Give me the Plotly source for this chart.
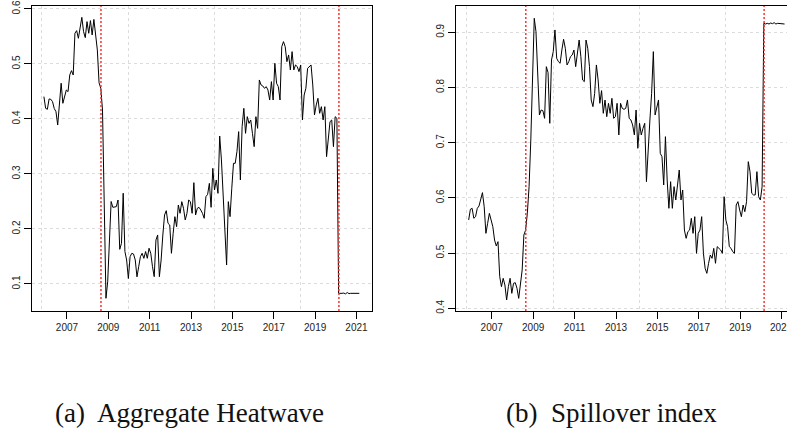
import numpy as np
import plotly.graph_objects as go

# ---------------- data ----------------
heatwave = [
    0.4406, 0.4194, 0.4176, 0.4364, 0.4358, 0.4315, 0.419, 0.4133, 0.389, 0.4285,
    0.465, 0.4285, 0.4436, 0.4527, 0.4497, 0.48, 0.4879, 0.48, 0.5558, 0.5606,
    0.5467, 0.563, 0.5848, 0.5588, 0.5479, 0.577, 0.5558, 0.5788, 0.5527, 0.581,
    0.5497, 0.5255, 0.466, 0.4558, 0.4164, 0.271, 0.074, 0.104, 0.18, 0.25,
    0.2394, 0.2394, 0.2406, 0.2527, 0.163, 0.174, 0.265, 0.159, 0.1436, 0.11,
    0.1497, 0.1558, 0.1545, 0.1436, 0.113, 0.1315, 0.1497, 0.1558, 0.1467, 0.159,
    0.1467, 0.165, 0.1558,
    0.1315, 0.1133, 0.18, 0.1891, 0.1133, 0.1436, 0.1891, 0.2255, 0.2333, 0.2103,
    0.2073, 0.1558, 0.1921, 0.2224, 0.2042, 0.2436, 0.2285, 0.2497, 0.2376, 0.2164,
    0.2285, 0.2527, 0.2497, 0.2285, 0.2842, 0.2255, 0.2376, 0.2394, 0.2345, 0.2285,
    0.2194, 0.2588, 0.263, 0.283, 0.2394, 0.3103, 0.2709, 0.2891, 0.2648, 0.369,
    0.3255, 0.2527, 0.1921, 0.1345, 0.2497, 0.2224, 0.2739, 0.3194, 0.3194, 0.3406,
    0.377, 0.2891, 0.386, 0.4194, 0.3739, 0.4042, 0.392, 0.3982, 0.3739, 0.3497,
    0.4042, 0.383,
    0.4709, 0.4618, 0.46, 0.4558, 0.4588, 0.4527, 0.4345, 0.4679, 0.4345, 0.5012,
    0.4648, 0.4588, 0.4345, 0.5315, 0.5406, 0.5315, 0.5042, 0.5164, 0.4891, 0.5224,
    0.4891, 0.4982, 0.4952, 0.4861, 0.4982, 0.3982, 0.4436, 0.4558, 0.4921, 0.4952,
    0.4982, 0.4618, 0.4073, 0.4255, 0.4376, 0.4103, 0.4224, 0.3982, 0.4224, 0.3315,
    0.3618, 0.3951, 0.3982, 0.3497, 0.4042, 0.4012,
    0.083, 0.0825, 0.083, 0.0835, 0.082, 0.0845, 0.0825, 0.083, 0.083, 0.0825,
    0.083, 0.083, 0.083,
]

spillover = [
    0.5600, 0.5793, 0.5811, 0.5630, 0.5660, 0.5811, 0.5853, 0.5962, 0.6095, 0.5841,
    0.5358, 0.5539, 0.5720, 0.5600, 0.5479, 0.5237, 0.5129, 0.5207, 0.4573, 0.4392,
    0.4543, 0.4422, 0.4150, 0.4392, 0.4543, 0.4271, 0.4452, 0.4464, 0.4362, 0.4180,
    0.4392, 0.4694, 0.5328, 0.5418, 0.5720, 0.6203, 0.7049, 0.8075, 0.9253, 0.9011,
    0.8377, 0.7502, 0.7592, 0.7580, 0.7441, 0.8377, 0.8269, 0.7351, 0.8498, 0.8649,
    0.9042, 0.8528, 0.8468, 0.8438, 0.8679, 0.8873, 0.8709, 0.8408, 0.8468, 0.8559,
    0.8589, 0.8679, 0.8377, 0.8589, 0.8860, 0.8559, 0.8136, 0.8106, 0.8860, 0.8709,
    0.8377, 0.7773, 0.7653, 0.7894, 0.8408, 0.8136, 0.7713, 0.7943, 0.7532, 0.7773,
    0.7471, 0.7713, 0.7532, 0.7804, 0.7441, 0.7471, 0.7713, 0.7140, 0.7713, 0.7622,
    0.7604,
    0.7622, 0.7774, 0.7441, 0.7411, 0.7321, 0.7140, 0.7592, 0.6898, 0.7351, 0.7140,
    0.7260, 0.7351, 0.6294, 0.6928, 0.7411, 0.7894, 0.8649, 0.7502, 0.7653, 0.7774,
    0.6807, 0.6747, 0.6234, 0.7109, 0.6324, 0.5811, 0.6294, 0.5811, 0.6204, 0.5962,
    0.6234, 0.6505, 0.5962, 0.6143, 0.5418, 0.5267, 0.5388, 0.5418, 0.5630, 0.5358,
    0.5660, 0.4996, 0.5358, 0.5418, 0.5660, 0.4996, 0.4724, 0.4633, 0.4815, 0.4966,
    0.4905, 0.5086, 0.4815, 0.5117, 0.5086, 0.5056, 0.4996, 0.6022, 0.5600, 0.5479,
    0.5117, 0.5086, 0.5026, 0.4996, 0.5871, 0.5932, 0.5781, 0.5660, 0.5871, 0.5750,
    0.5932, 0.6656, 0.6475, 0.6083, 0.6053, 0.6053, 0.6475, 0.6022, 0.5962, 0.6203,
    0.9162, 0.9150, 0.9162, 0.9150, 0.9168, 0.9156, 0.9174, 0.9150, 0.9162, 0.9156,
    0.9162, 0.9156, 0.9150,
]

start_year = 2005.886                      # first monthly observation (decimal year)
n_obs = len(heatwave)
x_years = [start_year + i / 12 for i in range(n_obs)]

year_ticks = [2007, 2009, 2011, 2013, 2015, 2017, 2019, 2021]
year_labels = [str(y) for y in year_ticks]
grid_years = [2005.792, 2009.958, 2014.125, 2018.292]   # R grid() positions
break_years = [2008.645, 2020.15]                       # structural breaks

heat_ticks = [0.1, 0.2, 0.3, 0.4, 0.5, 0.6]
heat_labels = ["0.1", "0.2", "0.3", "0.4", "0.5", "0.6"]
spill_ticks = [0.4, 0.5, 0.6, 0.7, 0.8, 0.9]
spill_labels = ["0.4", "0.5", "0.6", "0.7", "0.8", "0.9"]

captions = ["(a)  Aggregate Heatwave", "(b)  Spillover index"]

# ---------------- figure ----------------
W, H = 787, 428
fig = go.Figure()
fig.add_trace(go.Scatter(x=x_years, y=heatwave, mode="lines",
                         line=dict(color="black", width=1), xaxis="x", yaxis="y",
                         hoverinfo="skip"))
fig.add_trace(go.Scatter(x=x_years, y=spillover, mode="lines",
                         line=dict(color="black", width=1), xaxis="x2", yaxis="y2",
                         hoverinfo="skip"))

GRID = "#dcdcdc"
tickfont = dict(family="Liberation Sans, Arial, sans-serif", size=10, color="#222")

def xax(domain, rng, anchor):
    return dict(domain=domain, range=rng, anchor=anchor, automargin=False,
                tickmode="array", tickvals=year_ticks, ticktext=year_labels,
                ticks="outside", ticklen=7, tickcolor="black", tickwidth=1,
                showline=True, linecolor="black", linewidth=1, mirror=True,
                showgrid=False, zeroline=False, tickfont=tickfont,
                minor=dict(tickmode="array", tickvals=grid_years, showgrid=True,
                           gridcolor=GRID, griddash="dot", gridwidth=1, ticks=""))

def yax(domain, rng, anchor, tv, tt, mirror):
    return dict(domain=domain, range=rng, anchor=anchor, automargin=False,
                tickmode="array", tickvals=tv, ticktext=tt, tickangle=-90,
                ticks="outside", ticklen=7, tickcolor="black", tickwidth=1,
                showline=True, linecolor="black", linewidth=1, mirror=mirror,
                showgrid=True, gridcolor=GRID, griddash="dot", gridwidth=1,
                zeroline=False, tickfont=tickfont)

ydom = [1 - 311 / H, 1 - 6 / H]
fig.update_layout(
    width=W, height=H, margin=dict(l=0, r=0, t=0, b=0, autoexpand=False),
    paper_bgcolor="white", plot_bgcolor="white", showlegend=False,
    xaxis=xax([32 / W, 372 / W], [2005.31, 2021.75], "y"),
    yaxis=yax(ydom, [0.0509, 0.6054], "x", heat_ticks, heat_labels, True),
    xaxis2=xax([456 / W, 1.0], [2005.275, 2021.255], "y2"),
    yaxis2=yax(ydom, [0.3951, 0.9476], "x2", spill_ticks, spill_labels, False),
)

# the last year label of panel (b) runs past the page edge and is cut off there
fig.add_annotation(text=year_labels[-1], x=year_ticks[-1], xref="x2",
                   y=1 - 327 / H, yref="paper", showarrow=False,
                   xanchor="center", yanchor="middle", font=tickfont)

for xr, yr in (("x", "y"), ("x2", "y2")):
    for b in break_years:
        fig.add_shape(type="line", xref=xr, yref=yr + " domain", x0=b, x1=b, y0=0, y1=1,
                      line=dict(color="#ff3030", width=1.5, dash="2px,2px"), layer="above")

cap_font = dict(family="Liberation Serif, Times New Roman, serif", size=27, color="#111")
fig.add_annotation(text=captions[0], x=189 / W, y=1 - 413 / H, xref="paper", yref="paper",
                   showarrow=False, xanchor="center", yanchor="middle", font=cap_font)
fig.add_annotation(text=captions[1], x=611 / W, y=1 - 413 / H, xref="paper", yref="paper",
                   showarrow=False, xanchor="center", yanchor="middle", font=cap_font)

fig.write_html("out.html")
